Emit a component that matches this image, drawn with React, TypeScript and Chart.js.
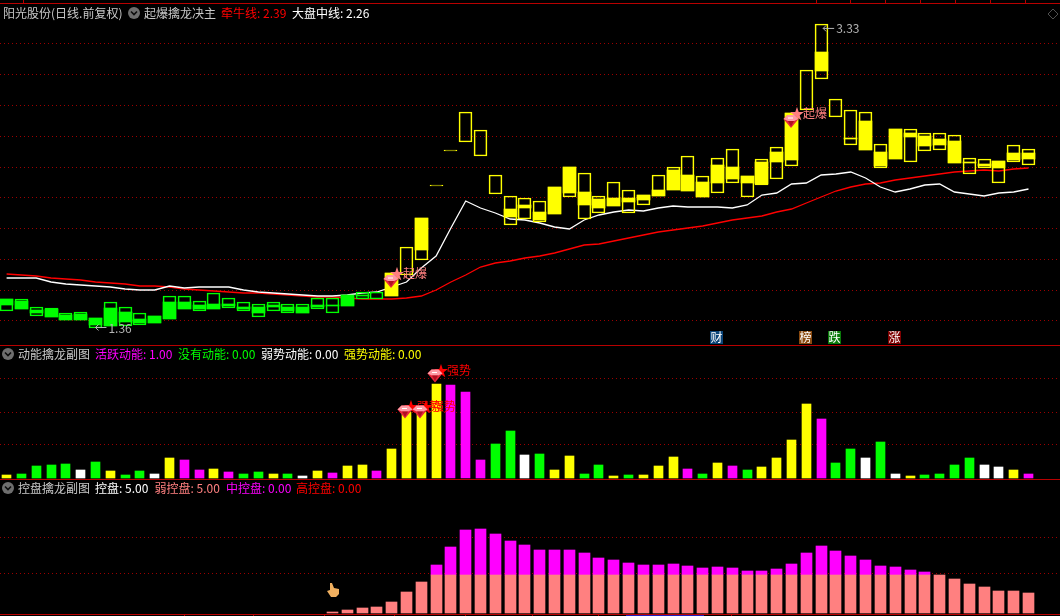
import React, { useEffect, useRef } from "react";
import { Chart, registerables } from "chart.js";

Chart.register(...registerables);

// ---------- data ----------
const days = Array.from({ length: 70 }, (_, i) => i);

const frameHigh = [1.542,1.542,1.49,1.4835,1.451,1.4575,1.4185,1.5225,1.49,1.451,1.4315,1.5615,1.5615,1.529,1.581,1.5485,1.5225,1.5095,1.5225,1.5095,1.5095,1.5485,1.5485,1.568,1.5875,1.5875,1.711,1.88,2.0685,2.283,2.5105,2.7575,2.6405,2.348,2.2115,2.1985,2.179,2.27,2.4,2.361,2.2115,2.3025,2.2505,2.218,2.348,2.4,2.4715,2.3415,2.4585,2.517,2.3415,2.452,2.53,2.751,3.0305,3.3295,2.842,2.7705,2.7575,2.5495,2.647,2.647,2.621,2.621,2.608,2.4585,2.452,2.439,2.543,2.517];
const frameLow = [1.464,1.477,1.4315,1.425,1.4055,1.4055,1.3535,1.3665,1.3665,1.373,1.386,1.412,1.477,1.464,1.477,1.4835,1.464,1.425,1.464,1.451,1.451,1.477,1.451,1.4965,1.542,1.542,1.5615,1.698,1.7955,2.2765,2.504,2.5625,2.4715,2.2245,2.023,2.062,2.0425,2.0945,2.205,2.062,2.101,2.1465,2.101,2.153,2.2115,2.2505,2.244,2.205,2.231,2.296,2.205,2.283,2.322,2.4065,2.7705,2.972,2.725,2.543,2.5105,2.3935,2.452,2.4325,2.504,2.5105,2.426,2.3545,2.3935,2.296,2.4325,2.413];
const bodyHigh = [1.542,1.529,1.4705,1.477,1.438,1.4445,1.4185,1.4835,1.4575,1.412,1.4315,1.5225,1.5225,1.503,1.5095,1.5095,1.49,1.49,1.503,1.49,1.49,1.503,1.503,1.568,1.568,null,1.711,null,2.0685,null,null,null,null,null,2.127,2.153,2.1075,2.27,2.4,2.2375,2.192,2.1985,2.1985,2.218,2.2505,2.3805,2.348,2.3025,2.413,2.4,2.3415,2.4325,2.4975,2.751,null,3.1475,null,2.5885,2.699,2.4975,2.647,2.621,2.6015,2.582,2.569,2.4325,2.4195,2.439,2.491,2.491];
const bodyLow = [1.503,1.477,1.451,1.425,1.4055,1.4055,1.373,1.3665,1.3925,1.386,1.386,1.412,1.477,1.477,1.477,1.4965,1.477,1.451,1.49,1.464,1.451,1.49,1.4965,1.4965,1.5615,null,1.5615,null,1.8605,null,null,null,null,null,2.075,2.1335,2.0555,2.0945,2.231,2.153,2.1335,2.1465,2.1725,2.1855,2.2115,2.2505,2.244,2.205,2.296,2.322,2.296,2.2895,2.4325,2.4455,null,3.024,null,2.582,2.5105,2.4065,2.452,2.595,2.5365,2.543,2.426,2.426,2.4065,2.3935,2.4455,2.452];
const marketMidLine = [1.6785,1.6785,1.6785,1.6525,1.6395,1.633,1.6265,1.62,1.607,1.6005,1.6005,1.6265,1.6135,1.62,1.62,1.62,1.6005,1.5875,1.581,1.5745,1.568,1.5615,1.5615,1.568,1.581,1.5875,1.62,1.6525,1.7435,1.8215,2.0035,2.179,2.1335,2.101,2.062,2.0555,2.036,2.01,1.997,2.0555,2.088,2.1075,2.1205,2.114,2.1335,2.1465,2.14,2.14,2.14,2.1335,2.153,2.218,2.231,2.2895,2.296,2.348,2.3545,2.3675,2.3285,2.27,2.2375,2.257,2.283,2.2895,2.2375,2.2245,2.2115,2.231,2.2375,2.257];
const bullLine = [1.7045,1.698,1.6915,1.6785,1.672,1.6655,1.6525,1.646,1.6395,1.6265,1.6265,1.62,1.607,1.6005,1.594,1.5875,1.581,1.581,1.5745,1.568,1.5615,1.555,1.555,1.5485,1.542,1.542,1.542,1.5485,1.5615,1.6005,1.6525,1.698,1.75,1.776,1.789,1.8085,1.8215,1.841,1.867,1.893,1.8995,1.919,1.9385,1.958,1.9775,1.9905,2.0035,2.0165,2.036,2.0555,2.0685,2.0815,2.1075,2.127,2.166,2.205,2.244,2.27,2.2895,2.296,2.3155,2.3285,2.3415,2.3545,2.3675,2.374,2.3805,2.374,2.387,2.3935];
const priceGrid = [3.2, 3.0, 2.8, 2.6, 2.4, 2.2, 2.0, 1.8, 1.6, 1.4];

const energyValues = [3,4,12,13,14,8,16,7,3,7,4,20,18,8,9,6,4,6,4,4,2,7,5,12,13,7,29,66,66,94,93,86,18,34,47,23,24,8,22,4,13,2,3,3,12,21,9,4,15,12,8,11,20,38,74,59,15,29,20,36,4,2,3,4,13,20,13,11,8,4];
const energyKinds = ["y","g","g","g","g","w","g","y","g","g","w","y","m","m","y","m","g","g","y","g","w","y","m","y","y","m","y","y","y","y","m","m","m","g","g","w","g","y","y","g","g","y","g","y","y","y","m","g","y","m","g","y","y","y","y","m","g","g","w","g","w","y","g","g","g","g","w","w","y","m"];
const energyGrid = [99, 66, 34];

const weakControl = [0,0,0,0,0,0,0,0,0,0,0,0,0,0,0,0,0,0,0,0,0,0,0.25,0.75,1.25,1.5,2.75,5.25,7.75,9.5,9.5,9.5,9.5,9.5,9.5,9.5,9.5,9.5,9.5,9.5,9.5,9.5,9.5,9.5,9.5,9.5,9.5,9.5,9.5,9.5,9.5,9.5,9.5,9.5,9.5,9.5,9.5,9.5,9.5,9.5,9.5,9.5,9.5,9.5,8.5,7.25,6.5,5.5,5.5,5];
const midControl = [0,0,0,0,0,0,0,0,0,0,0,0,0,0,0,0,0,0,0,0,0,0,0,0,0,0,0,0,0,2.5,7,11.25,11.5,10.25,8.5,7.5,6.25,6.25,6.25,5.5,4.25,3.75,3,2.5,2.5,2.75,2.25,1.75,2,1.75,1,1,1.5,2.75,5.5,7.25,6,4.75,3.75,2.25,2,1.25,0.75,0,0,0,0,0,0,0];
const controlGrid = [19, 9.75];

const stockTitle = "阳光股份(日线.前复权)";
const mainTitle = "起爆擒龙决主";
const energyTitle = "动能擒龙副图";
const controlTitle = "控盘擒龙副图";
const mainLegend = ["牵牛线: 2.39", "大盘中线: 2.26"];
const energyLegend = ["活跃动能: 1.00", "没有动能: 0.00", "弱势动能: 0.00", "强势动能: 0.00"];
const controlLegend = ["控盘: 5.00", "弱控盘: 5.00", "中控盘: 0.00", "高控盘: 0.00"];
const lowLabel = { day: 6, value: 1.36, text: "1.36" };
const highLabel = { day: 55, value: 3.33, text: "3.33" };
const burstDays = [26, 53];
const burstLabel = "起爆";
const strongDays = [27, 28, 29];
const strongLevels = [72, 72, 108];
const strongLabel = "强势";
const starMark = "★";
const eventDays = [48, 54, 56, 60];
const eventLabels = ["财", "榜", "跌", "涨"];

// ---------- styles / layout ----------
const RED_RULE = "#b80000";
const GRID = "#9c0000";
const KIND_COLORS: Record<string, string> = { y: "#ffff00", g: "#00ff00", w: "#ffffff", m: "#ff00ff" };
const FONT = '12px "Noto Sans CJK SC", "Noto Sans", sans-serif';
const STAR_FONT = '15px "Noto Sans CJK SC", "Noto Sans", sans-serif';
const X_MIN = (0 - 6.6) / 14.81;
const X_MAX = (1060 - 6.6) / 14.81;
const EVENT_BG = ["#0a4478", "#8a4a10", "#0a7a0a", "#7e0000"];

const pairs = (values: (number | null)[], other?: (number | null)[]) =>
  days
    .map((d, i) => ({ x: d, y: other ? [other[i], values[i]] : values[i] }))
    .filter((p, i) => values[i] !== null && (!other || other[i] !== null));

const nonZero = (values: number[]) =>
  days.filter((d) => values[d] > 0).map((d) => ({ x: d, y: values[d] }));

function snapBars(chart: any) {
  chart.data.datasets.forEach((ds: any, i: number) => {
    if (ds.type === "line") return;
    chart.getDatasetMeta(i).data.forEach((el: any) => {
      el.x = Math.floor(el.x) + 0.5;
    });
  });
}

function chevronIcon(ctx: CanvasRenderingContext2D, cx: number, cy: number) {
  ctx.fillStyle = "#6e6e6e";
  ctx.beginPath();
  ctx.arc(cx, cy, 6, 0, Math.PI * 2);
  ctx.fill();
  ctx.strokeStyle = "#0c0c0c";
  ctx.lineWidth = 1.6;
  ctx.beginPath();
  ctx.moveTo(cx - 3, cy - 1.5);
  ctx.lineTo(cx, cy + 1.5);
  ctx.lineTo(cx + 3, cy - 1.5);
  ctx.stroke();
}

function gem(ctx: CanvasRenderingContext2D, cx: number, cy: number) {
  ctx.fillStyle = "#e8283c";
  ctx.beginPath();
  ctx.moveTo(cx - 7.5, cy - 2.5);
  ctx.lineTo(cx - 3.5, cy - 6.5);
  ctx.lineTo(cx + 3.5, cy - 6.5);
  ctx.lineTo(cx + 7.5, cy - 2.5);
  ctx.lineTo(cx, cy + 6.5);
  ctx.closePath();
  ctx.fill();
  ctx.fillStyle = "#ff9aa4";
  ctx.beginPath();
  ctx.moveTo(cx - 7.5, cy - 2.5);
  ctx.lineTo(cx - 3.5, cy - 6.5);
  ctx.lineTo(cx + 3.5, cy - 6.5);
  ctx.lineTo(cx + 7.5, cy - 2.5);
  ctx.lineTo(cx + 3, cy - 0.5);
  ctx.lineTo(cx - 3, cy - 0.5);
  ctx.closePath();
  ctx.fill();
  ctx.fillStyle = "#ffffff";
  ctx.fillRect(cx - 3, cy - 4, 5, 1);
  ctx.fillStyle = "#b01020";
  ctx.beginPath();
  ctx.moveTo(cx - 3, cy - 0.5);
  ctx.lineTo(cx + 3, cy - 0.5);
  ctx.lineTo(cx, cy + 5);
  ctx.closePath();
  ctx.fill();
}

function signal(ctx: CanvasRenderingContext2D, x: number, y: number, label: string, color: string, gemDy: number) {
  ctx.fillStyle = color;
  ctx.textAlign = "left";
  ctx.textBaseline = "middle";
  ctx.font = STAR_FONT;
  ctx.fillText(starMark, x - 2.5, y);
  ctx.font = FONT;
  ctx.fillText(label, x + 11, y);
  gem(ctx, x - 1, y + gemDy);
}

function textAt(ctx: CanvasRenderingContext2D, text: string, x: number, y: number, color: string) {
  ctx.fillStyle = color;
  ctx.font = FONT;
  ctx.textAlign = "left";
  ctx.textBaseline = "middle";
  ctx.fillText(text, x, y);
}

function arrowLabel(ctx: CanvasRenderingContext2D, text: string, x: number, y: number) {
  ctx.strokeStyle = "#b4b4b4";
  ctx.lineWidth = 1;
  ctx.beginPath();
  ctx.moveTo(x, y + 0.5);
  ctx.lineTo(x + 11, y + 0.5);
  ctx.moveTo(x, y + 0.5);
  ctx.lineTo(x + 3, y - 2.5);
  ctx.moveTo(x, y + 0.5);
  ctx.lineTo(x + 3, y + 3.5);
  ctx.stroke();
  textAt(ctx, text, x + 13, y + 1, "#b4b4b4");
}

const mainPlugin = {
  id: "mainOverlay",
  afterDatasetsUpdate: snapBars,
  afterDraw(chart: any) {
    const { ctx, scales } = chart;
    const sx = scales.x, sy = scales.y;
    ctx.save();
    ctx.fillStyle = RED_RULE;
    ctx.fillRect(0, 3, 1060, 1);
    [23, 816, 850, 885, 920, 955, 990, 1025].forEach((x) => ctx.fillRect(x, 0, 1, 3));

    textAt(ctx, stockTitle, 3, 13, "#c8c8c8");
    chevronIcon(ctx, 134, 13);
    textAt(ctx, mainTitle, 144, 13, "#c8c8c8");
    textAt(ctx, mainLegend[0], 221, 13, "#ff0000");
    textAt(ctx, mainLegend[1], 292, 13, "#ffffff");

    burstDays.forEach((d) => {
      signal(ctx, Math.round(sx.getPixelForValue(d)), Math.round(sy.getPixelForValue(bodyHigh[d] as number)), burstLabel, "#ff8080", 8.5);
    });

    arrowLabel(ctx, lowLabel.text, sx.getPixelForValue(lowLabel.day), sy.getPixelForValue(lowLabel.value));
    arrowLabel(ctx, highLabel.text, sx.getPixelForValue(highLabel.day) + 2, sy.getPixelForValue(highLabel.value) + 4);

    eventDays.forEach((d, i) => {
      const left = Math.floor(sx.getPixelForValue(d)) - 7;
      ctx.fillStyle = EVENT_BG[i];
      ctx.fillRect(left, 331, 13, 13);
      ctx.fillStyle = "#ffffff";
      ctx.font = FONT;
      ctx.textAlign = "center";
      ctx.textBaseline = "middle";
      ctx.fillText(eventLabels[i], left + 6.5, 337.5);
    });

    ctx.strokeStyle = "#505050";
    ctx.lineWidth = 1;
    ctx.beginPath();
    ctx.moveTo(1053, 9);
    ctx.lineTo(1058, 14);
    ctx.lineTo(1053, 19);
    ctx.lineTo(1048, 14);
    ctx.closePath();
    ctx.stroke();
    ctx.restore();
  },
};

const energyPlugin = {
  id: "energyOverlay",
  afterDatasetsUpdate: snapBars,
  afterDraw(chart: any) {
    const { ctx, scales } = chart;
    ctx.save();
    ctx.fillStyle = RED_RULE;
    ctx.fillRect(0, 0, 1060, 1);
    chevronIcon(ctx, 8, 9);
    textAt(ctx, energyTitle, 18, 9, "#c8c8c8");
    const xs = [95, 178, 261, 344];
    const cols = ["#ff00ff", "#00ff00", "#ffffff", "#ffff00"];
    energyLegend.forEach((t, i) => textAt(ctx, t, xs[i], 9, cols[i]));
    strongDays.forEach((d, i) => {
      signal(ctx, Math.round(scales.x.getPixelForValue(d)), Math.round(scales.y.getPixelForValue(strongLevels[i])), strongLabel, "#ff0000", 6);
    });
    ctx.restore();
  },
};

const controlPlugin = {
  id: "controlOverlay",
  afterDatasetsUpdate: snapBars,
  afterDraw(chart: any) {
    const { ctx } = chart;
    ctx.save();
    ctx.fillStyle = RED_RULE;
    ctx.fillRect(0, 0, 1060, 1);
    ctx.fillRect(0, 135, 1060, 1);
    [184, 253, 324, 394, 465, 532, 598, 731].forEach((x) => ctx.fillRect(x, 136, 1, 1));
    ctx.fillStyle = "#2020c0";
    ctx.fillRect(626, 136, 78, 1);
    chevronIcon(ctx, 8, 9);
    textAt(ctx, controlTitle, 18, 9, "#c8c8c8");
    const xs = [95, 154.5, 226, 296];
    const cols = ["#ffffff", "#ff8080", "#ff00ff", "#ff0000"];
    controlLegend.forEach((t, i) => textAt(ctx, t, xs[i], 9, cols[i]));

    // mouse pointer captured in the screenshot
    const hx = 333, hy = 111;
    ctx.fillStyle = "#f0b060";
    ctx.beginPath();
    ctx.moveTo(hx - 3, hy - 7);
    ctx.lineTo(hx - 1, hy - 7);
    ctx.lineTo(hx + 1, hy - 2);
    ctx.lineTo(hx + 6, hy - 1);
    ctx.lineTo(hx + 6, hy + 4);
    ctx.lineTo(hx + 3, hy + 7);
    ctx.lineTo(hx - 2, hy + 7);
    ctx.lineTo(hx - 6, hy + 1);
    ctx.lineTo(hx - 3, hy);
    ctx.closePath();
    ctx.fill();
    ctx.restore();
  },
};

function baseScales(yMin: number, yMax: number, ticks: number[], stacked = false) {
  return {
    x: { type: "linear", display: false, offset: false, min: X_MIN, max: X_MAX, stacked },
    y: {
      type: "linear",
      min: yMin,
      max: yMax,
      stacked,
      afterFit: (s: any) => { s.width = 0; },
      afterBuildTicks: (s: any) => { s.ticks = ticks.map((value) => ({ value })); },
      ticks: { display: false },
      border: { display: false, dash: [1, 3] },
      grid: { color: GRID, lineWidth: 1, drawTicks: false },
    },
  };
}

const baseOptions = {
  responsive: false,
  animation: false as const,
  devicePixelRatio: 1,
  layout: { padding: 0 },
  plugins: { legend: { display: false }, tooltip: { enabled: false } },
};

export default function App() {
  const mainRef = useRef<HTMLCanvasElement>(null);
  const energyRef = useRef<HTMLCanvasElement>(null);
  const controlRef = useRef<HTMLCanvasElement>(null);

  useEffect(() => {
    document.body.style.margin = "0";
    document.body.style.background = "#000";

    const candleColor = (c: any) => (c.raw.x < burstDays[0] ? "#00ff00" : "#ffff00");

    const main = new Chart(mainRef.current as HTMLCanvasElement, {
      type: "bar",
      data: {
        datasets: [
          {
            label: "frame",
            data: pairs(frameHigh, frameLow) as any,
            backgroundColor: "rgba(0,0,0,0)",
            borderColor: candleColor,
            borderWidth: 1,
            borderSkipped: false,
            barThickness: 13,
            grouped: false,
            order: 0,
          },
          {
            label: "body",
            data: pairs(bodyHigh, bodyLow) as any,
            backgroundColor: candleColor,
            borderWidth: 0,
            barThickness: 13,
            grouped: false,
            order: 1,
          },
          {
            type: "line",
            label: "大盘中线",
            data: pairs(marketMidLine) as any,
            borderColor: "#ffffff",
            borderWidth: 1.3,
            pointRadius: 0,
            tension: 0,
            order: 2,
          },
          {
            type: "line",
            label: "牵牛线",
            data: pairs(bullLine) as any,
            borderColor: "#ff0000",
            borderWidth: 1.3,
            pointRadius: 0,
            tension: 0,
            order: 3,
          },
        ] as any,
      },
      options: { ...baseOptions, scales: baseScales(1.243, 3.4855, priceGrid) } as any,
      plugins: [mainPlugin],
    });

    const energySets = ["m", "g", "w", "y"].map((k, idx) => ({
      label: k,
      data: days.filter((d) => energyKinds[d] === k).map((d) => ({ x: d, y: energyValues[d] })),
      backgroundColor: KIND_COLORS[k],
      borderWidth: 0,
      barThickness: 9,
      grouped: false,
      order: idx,
    }));
    const energy = new Chart(energyRef.current as HTMLCanvasElement, {
      type: "bar",
      data: { datasets: energySets as any },
      options: { ...baseOptions, scales: baseScales(-1, 133, energyGrid) } as any,
      plugins: [energyPlugin],
    });

    const control = new Chart(controlRef.current as HTMLCanvasElement, {
      type: "bar",
      data: {
        datasets: [
          { label: "弱控盘", data: nonZero(weakControl) as any, backgroundColor: "#ff8080", borderWidth: 0, barThickness: 11 },
          { label: "中控盘", data: nonZero(midControl) as any, backgroundColor: "#ff00ff", borderWidth: 0, barThickness: 11 },
        ] as any,
      },
      options: { ...baseOptions, scales: baseScales(-0.75, 33.5, controlGrid, true) } as any,
      plugins: [controlPlugin],
    });

    return () => {
      main.destroy();
      energy.destroy();
      control.destroy();
    };
  }, []);

  const canvasStyle = (top: number, height: number): React.CSSProperties => ({
    position: "absolute",
    left: 0,
    top,
    width: 1060,
    height,
    display: "block",
  });

  return (
    <div style={{ position: "relative", width: 1060, height: 616, background: "#000", overflow: "hidden" }}>
      <canvas ref={mainRef} width={1060} height={345} style={canvasStyle(0, 345)} />
      <canvas ref={energyRef} width={1060} height={134} style={canvasStyle(345, 134)} />
      <canvas ref={controlRef} width={1060} height={137} style={canvasStyle(479, 137)} />
    </div>
  );
}
